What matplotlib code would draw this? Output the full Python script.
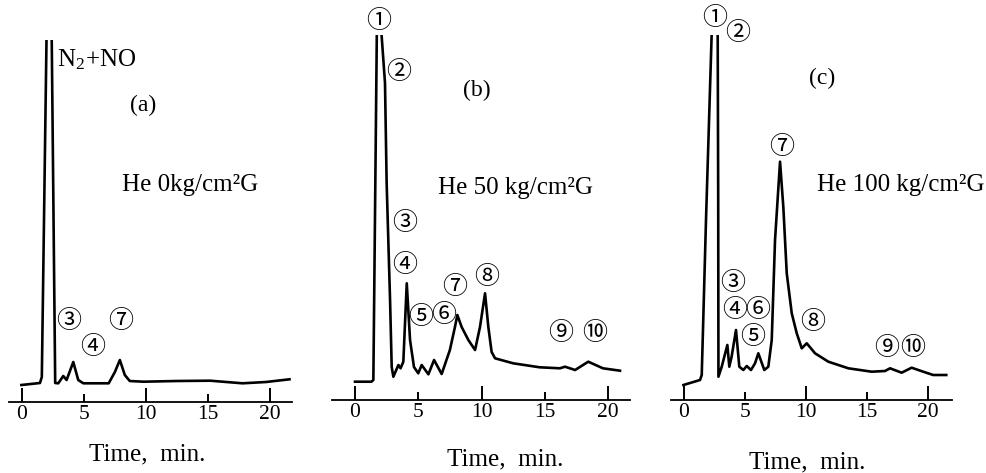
import matplotlib
matplotlib.use("Agg")
import matplotlib.pyplot as plt

plt.rcParams['font.family'] = ['Liberation Serif', 'Noto Sans CJK JP']
plt.rcParams['mathtext.fontset'] = 'stix'

# chromatogram traces: time (min) and detector response (arbitrary units)
time_a = [-0.05, 1.45, 1.6, 2.02, 2.37, 2.68, 2.93, 3.33, 3.6, 4.14, 4.54, 4.95, 7.0, 7.5, 7.9,
          8.3, 8.7, 9.8, 12.5, 15.2, 17.8, 19.7, 21.6]
resp_a = [17, 19, 25, 400, 400, 19, 18.7, 26, 22, 40, 22, 18.7, 18.7, 30, 42,
          27, 21, 20.3, 21, 21.3, 18.7, 20, 22.7]

time_b = [0.0, 1.3, 1.45, 1.75, 2.0, 2.1, 2.37, 2.5, 2.77, 2.9, 3.03, 3.43, 3.6, 3.82, 4.09,
          4.35, 4.66, 5.0, 5.27, 5.8, 6.25, 6.85, 7.5, 7.9, 8.09, 8.43, 8.96, 9.49, 9.88,
          10.28, 10.54, 10.8, 11.07, 12.5, 14.6, 16.2, 16.6, 17.4, 18.44, 19.6, 20.95]
resp_b = [18.3, 18.3, 20, 400, 400, 365, 317, 217, 100, 33, 23.3, 35, 31.7, 38.3, 116.7,
          60, 33, 26.7, 35, 25.7, 40, 26, 50, 73, 85, 73, 60, 50, 73,
          106.7, 73, 48, 41.7, 36.7, 32.7, 31.7, 33.3, 30, 38.3, 31.7, 29.3]

time_c = [-0.05, 1.31, 1.45, 1.8, 2.35, 2.75, 2.8, 2.82, 3.09, 3.55, 3.71, 3.9, 4.26, 4.53,
          4.86, 5.14, 5.49, 5.82, 6.09, 6.58, 6.91, 7.19, 7.46, 7.87, 8.14, 8.42, 8.83, 9.24,
          9.65, 10.06, 10.74, 11.83, 13.47, 15.38, 16.48, 16.89, 17.84, 18.66, 19.61, 20.43, 21.5]
resp_c = [15, 20, 25, 180, 400, 400, 203, 23.3, 33.3, 55, 33.3, 43.3, 70, 33.3,
          30, 34, 30, 36.7, 46.7, 30, 33.3, 60, 160, 238.3, 193, 126.7, 86.7, 66.7,
          51.7, 56.7, 46.7, 38.3, 31.7, 28.3, 29, 31.7, 27.3, 32.3, 28.3, 25, 25]

# peak labels: (text, time, response)
labels_a = [('③', 3.79, 80), ('④', 5.73, 55), ('⑦', 7.98, 80)]
labels_b = [('①', 1.90, 379), ('②', 3.48, 328), ('③', 3.95, 177), ('④', 3.95, 135),
            ('⑤', 5.22, 83), ('⑥', 7.04, 85), ('⑦', 7.91, 113), ('⑧', 10.43, 123),
            ('⑨', 16.28, 67), ('⑩', 18.97, 67)]
labels_c = [('①', 2.54, 382), ('②', 4.43, 367), ('③', 4.02, 117), ('④', 4.18, 90),
            ('⑤', 5.66, 63), ('⑥', 6.07, 90), ('⑦', 8.03, 253), ('⑧', 10.57, 78),
            ('⑨', 16.64, 52), ('⑩', 18.77, 52)]

W, H = 987, 473
fig = plt.figure(figsize=(W / 100, H / 100), dpi=100)


def make_axes(left, right, axis_y, top_y, xmin, xmax, ymax):
    ax = fig.add_axes([left / W, (H - axis_y) / H, (right - left) / W, (axis_y - top_y) / H])
    ax.set_xlim(xmin, xmax)
    ax.set_ylim(0, ymax)
    for side in ['top', 'right', 'left']:
        ax.spines[side].set_visible(False)
    ax.spines['bottom'].set_linewidth(1.3)
    ax.set_yticks([])
    ax.set_xticks([0, 10, 20])
    ax.set_xticks([5, 15], minor=True)
    ax.set_xticklabels(['0', '10', '20'])
    ax.set_xticklabels(['5', '15'], minor=True)
    ax.tick_params(axis='x', which='both', direction='in', pad=2, labelsize=15.5, width=1.4)
    ax.tick_params(axis='x', which='major', length=10)
    ax.tick_params(axis='x', which='minor', length=6)
    ax.patch.set_visible(False)
    return ax


ax_a = make_axes(9, 292, 402, 40, -1.05, 21.8, 362)
ax_b = make_axes(332, 630, 400, 35, -1.82, 21.74, 365)
ax_c = make_axes(671, 952, 400, 35, -1.07, 21.97, 365)

for ax, t, r, labs in [(ax_a, time_a, resp_a, labels_a),
                       (ax_b, time_b, resp_b, labels_b),
                       (ax_c, time_c, resp_c, labels_c)]:
    ax.plot(t, r, color='black', lw=1.9, solid_joinstyle='round')
    for txt, x, y in labs:
        ax.text(x, y, txt, ha='center', va='center', fontsize=18, clip_on=False)

ax_a.text(2.82, 342, r'N$_{\mathregular{2}}$+NO', ha='left', va='center', fontsize=18)
ax_a.text(9.76, 297, '(a)', ha='center', va='center', fontsize=17)
ax_a.text(8.06, 217, 'He 0kg/cm²G', ha='left', va='center', fontsize=18)
ax_b.text(9.64, 310, '(b)', ha='center', va='center', fontsize=17)
ax_b.text(12.65, 212, 'He 50 kg/cm²G', ha='center', va='center', fontsize=18)
ax_c.text(11.31, 322, '(c)', ha='center', va='center', fontsize=17)
ax_c.text(17.79, 215, 'He 100 kg/cm²G', ha='center', va='center', fontsize=18, clip_on=False)

ax_a.text(10.1, -0.146, 'Time,  min.', transform=ax_a.get_xaxis_transform(),
          ha='center', va='center', fontsize=18)
ax_b.text(11.86, -0.164, 'Time,  min.', transform=ax_b.get_xaxis_transform(),
          ha='center', va='center', fontsize=18)
ax_c.text(10.08, -0.17, 'Time,  min.', transform=ax_c.get_xaxis_transform(),
          ha='center', va='center', fontsize=18)

fig.savefig('out.png', dpi=100)
